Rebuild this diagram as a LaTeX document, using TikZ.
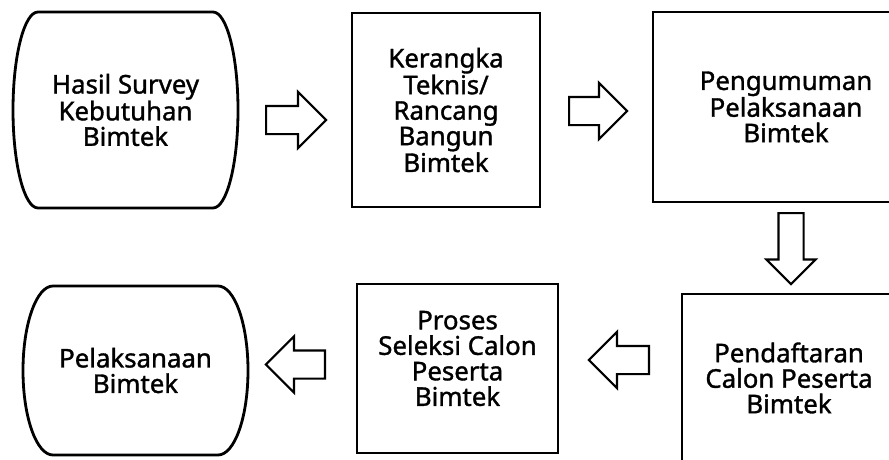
\documentclass[tikz,border=0pt]{standalone}
\usepackage{fontspec}
\setmainfont{Noto Sans}[FakeBold=1.3]
\usetikzlibrary{shapes.arrows}

\begin{document}
\begin{tikzpicture}[x=1pt, y=-1pt,
    box/.style={draw, line width=2.8pt, align=center, inner sep=0pt, outer sep=0pt,
      font=\fontsize{25.8pt}{25.5pt}\selectfont},
    term/.style={box, draw=none},
    bigarrow/.style={single arrow, draw, line width=2.2pt, inner xsep=0pt, inner ysep=13pt,
      single arrow head extend=14pt, minimum height=60pt, anchor=tail}]
    \clip (0,0) rectangle (889,460);
    % top row
    \node[term, minimum width=225pt, minimum height=196pt] (survey) at (125.5,110) {Hasil Survey\\Kebutuhan\\Bimtek};
    \draw[line width=2.8pt] ([xshift=25pt]survey.north west) -- ([xshift=-25pt]survey.north east)
      arc[start angle=90, end angle=-90, x radius=25pt, y radius=98pt] -- ([xshift=25pt]survey.south west)
      arc[start angle=270, end angle=90, x radius=25pt, y radius=98pt] -- cycle;
    \node[box, minimum width=188pt, minimum height=194pt] (kerangka) at (446,110) {Kerangka\\Teknis/\\Rancang\\Bangun\\Bimtek};
    \node[box, minimum width=266pt, minimum height=190pt] (umum) at (786,107) {Pengumuman\\Pelaksanaan\\Bimtek};
    % bottom row
    \node[box, minimum width=214pt, minimum height=168pt] (daftar) at (789,378) {Pendaftaran\\Calon Peserta\\Bimtek};
    \node[box, minimum width=201pt, minimum height=169pt] (seleksi) at (457.5,368.5) {};
    \node[term] (seleksitext) at ([yshift=10pt]seleksi.center) {Proses\\Seleksi Calon\\Peserta\\Bimtek};
    \node[term, minimum width=225pt, minimum height=169pt] (pelaks) at (135.5,370.5) {Pelaksanaan\\Bimtek};
    \draw[line width=2.8pt] ([xshift=30pt]pelaks.north west) -- ([xshift=-30pt]pelaks.north east)
      arc[start angle=90, end angle=-90, x radius=30pt, y radius=84.5pt] -- ([xshift=30pt]pelaks.south west)
      arc[start angle=270, end angle=90, x radius=30pt, y radius=84.5pt] -- cycle;
    % arrows
    \node[bigarrow] (arr1) at (265,120) {};
    \node[bigarrow, minimum height=58pt] (arr2) at (568,111) {};
    \node[bigarrow, rotate=270, minimum height=71pt, inner ysep=11.5pt,
      single arrow head extend=12pt] (arr3) at (791,212) {};
    \node[bigarrow, rotate=180] (arr4) at (650,360) {};
    \node[bigarrow, rotate=180, minimum height=59pt] (arr5) at (326,364.5) {};
  \end{tikzpicture}
\end{document}
